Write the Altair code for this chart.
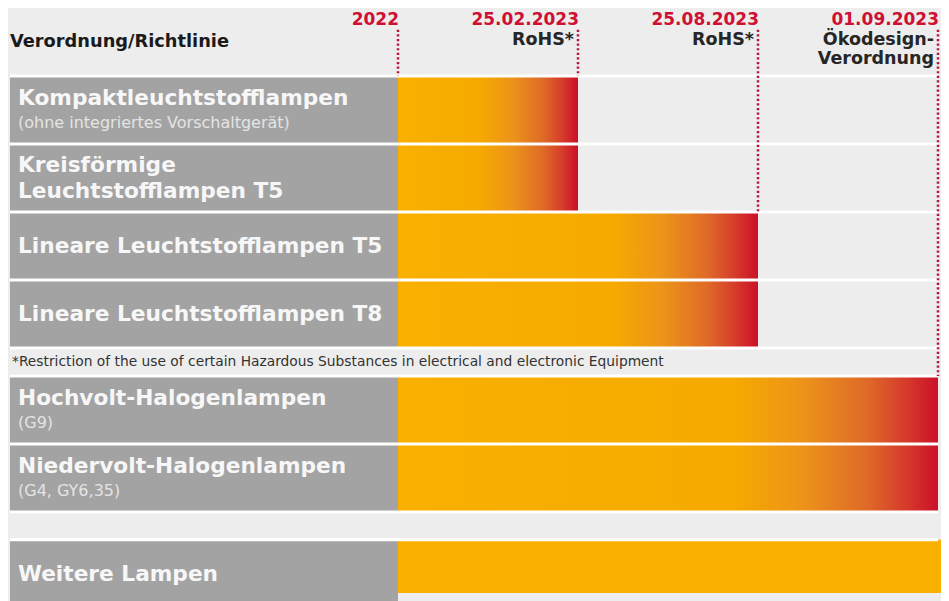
import altair as alt
import pandas as pd

# ---------------- data ----------------
lamps = [
    "Kompaktleuchtstofflampen",
    "Kreisförmige\nLeuchtstofflampen T5",
    "Lineare Leuchtstofflampen T5",
    "Lineare Leuchtstofflampen T8",
    "Hochvolt-Halogenlampen",
    "Niedervolt-Halogenlampen",
    "Weitere Lampen",
]
lamp_notes = ["(ohne integriertes Vorschaltgerät)", "", "", "", "(G9)", "(G4, GY6,35)", ""]
# milestone index at which the lamp is phased out (-1 = no phase-out, continues)
phase_out_step = [1, 1, 2, 2, 3, 3, -1]

milestone_dates = ["2022", "25.02.2023", "25.08.2023", "01.09.2023"]
milestone_rules = ["", "RoHS*", "RoHS*", "Ökodesign-\nVerordnung"]
milestone_step = [0, 1, 2, 3]

header_text = "Verordnung/Richtlinie"
footnote_text = "*Restriction of the use of certain Hazardous Substances in electrical and electronic Equipment"

# ---------------- layout ----------------
W, H = 933, 585
UNIT = 68.0
STEP_PX = 180.0
ORIGIN_PX = 390.0
XMIN, XMAX = -ORIGIN_PX / STEP_PX, (W - ORIGIN_PX) / STEP_PX
YMAX = H / UNIT
LABEL_LEFT = -388.0 / STEP_PX
GRID_RIGHT = (930.0 - ORIGIN_PX) / STEP_PX
HEADER_H, ROW_H, SEP_H = 1.0, 1.0, 0.41
LINE_H = 26

tops = []
u = HEADER_H
foot_top = None
for i in range(len(lamps)):
    if i == 4:
        foot_top = u
        u += SEP_H
    if i == 6:
        u += SEP_H
    tops.append(u)
    u += ROW_H

rows = pd.DataFrame({
    "lamp": lamps,
    "note": lamp_notes,
    "step": phase_out_step,
    "top": tops,
})
rows["bottom"] = rows["top"] + ROW_H
rows["center"] = rows["top"] + ROW_H / 2
rows["left"] = LABEL_LEFT
rows["start"] = 0.0
rows["end"] = rows["step"].where(rows["step"] >= 0, XMAX + 0.5).astype(float)
nlines = rows["lamp"].str.count("\n")
rows["main_y"] = (
    rows["center"]
    - rows["note"].ne("").astype(float) * (12 / UNIT)
    - nlines * (LINE_H / 2 / UNIT)
)
rows["note_y"] = rows["center"] + 13 / UNIT

ms = pd.DataFrame({"date": milestone_dates, "rule": milestone_rules, "step": milestone_step})
def line_bottom(s):
    hits = rows[rows["step"] == s]
    return float(hits["top"].min()) if len(hits) else float(rows["top"].min())
ms["y0"] = 0.32
ms["y1"] = [line_bottom(s) for s in milestone_step]

bounds = sorted(set(rows["top"].round(4)).union(set(rows["bottom"].round(4))))
seps = pd.DataFrame({"y": bounds, "x0": LABEL_LEFT, "x1": GRID_RIGHT})

foot = pd.DataFrame({"text": [footnote_text], "y": [foot_top + SEP_H / 2]})

xs = alt.Scale(domain=[XMIN, XMAX], nice=False, zero=False)
ys = alt.Scale(domain=[0, YMAX], nice=False, zero=False, reverse=True)
X = lambda f: alt.X(f, type="quantitative", scale=xs, axis=None)
Y = lambda f: alt.Y(f, type="quantitative", scale=ys, axis=None)

FONT = "DejaVu Sans"
RED = "#cf1035"


def grad(f):
    return alt.Gradient(
        gradient="linear", x1=0, x2=1, y1=0, y2=0,
        stops=[
            alt.GradientStop(color="#f9b000", offset=0),
            alt.GradientStop(color="#f6aa00", offset=f),
            alt.GradientStop(color="#ec921a", offset=f + (1 - f) * 0.35),
            alt.GradientStop(color="#df6a28", offset=f + (1 - f) * 0.65),
            alt.GradientStop(color="#d5392b", offset=f + (1 - f) * 0.85),
            alt.GradientStop(color="#cc1029", offset=1),
        ],
    )

base = alt.Chart(rows)

gray = base.mark_bar(color="#a3a3a3").encode(x=X("left"), x2="start", y=Y("top"), y2="bottom")

grad_layers = []
for s, f in [(1, 0.45), (2, 0.6), (3, 0.62)]:
    grad_layers.append(
        base.transform_filter(alt.datum.step == s)
        .mark_bar(color=grad(f))
        .encode(x=X("start"), x2="end", y=Y("top"), y2="bottom")
    )

solid = (
    base.transform_filter(alt.datum.step < 0)
    .mark_bar(color="#f9b000", clip=True)
    .encode(x=X("start"), x2="end", y=Y("top"), y2="bottom")
)

sep_rules = alt.Chart(seps).mark_rule(color="white", strokeWidth=3, clip=True).encode(
    x=X("x0"), x2="x1", y=Y("y")
)

dots = alt.Chart(ms).mark_rule(color="#b8143c", strokeWidth=2.5, strokeDash=[2.2, 2.4]).encode(
    x=X("step"), y=Y("y0"), y2="y1"
)

date_txt = alt.Chart(ms).mark_text(
    align="right", baseline="alphabetic", dx=1, font=FONT, fontSize=17, fontWeight="bold", color=RED
).encode(x=X("step"), y=alt.value(17), text="date:N")

rule_txt = alt.Chart(ms).mark_text(
    align="right", baseline="alphabetic", dx=-4, font=FONT, fontSize=17.5, fontWeight="bold",
    color="#262626", lineBreak="\n", lineHeight=19,
).encode(x=X("step"), y=alt.value(37), text="rule:N")

header = alt.Chart(pd.DataFrame({"t": [header_text]})).mark_text(
    align="left", baseline="alphabetic", font=FONT, fontSize=17.8, fontWeight="bold", color="#1a1a1a"
).encode(x=alt.value(2), y=alt.value(39), text="t:N")

main_txt = base.mark_text(
    align="left", baseline="middle", dx=8, font=FONT, fontSize=21.7, fontWeight="bold",
    color="#f7f7f7", lineBreak="\n", lineHeight=LINE_H,
).encode(x=X("left"), y=Y("main_y"), text="lamp:N")

note_txt = base.transform_filter(alt.datum.note != "").mark_text(
    align="left", baseline="middle", dx=8, font=FONT, fontSize=16, color="#e4e4e4"
).encode(x=X("left"), y=Y("note_y"), text="note:N")

foot_txt = alt.Chart(foot).mark_text(
    align="left", baseline="middle", font=FONT, fontSize=13.8, color="#333333"
).encode(x=alt.value(4), y=Y("y"), text="text:N")

chart = alt.layer(
    gray, *grad_layers, solid, sep_rules, dots, date_txt, rule_txt, header, main_txt, note_txt, foot_txt
).properties(
    width=W, height=H, padding=0, background="#ededed"
).configure_view(stroke=None)

chart.save("out.html", embed_options={"renderer": "svg", "actions": False})
